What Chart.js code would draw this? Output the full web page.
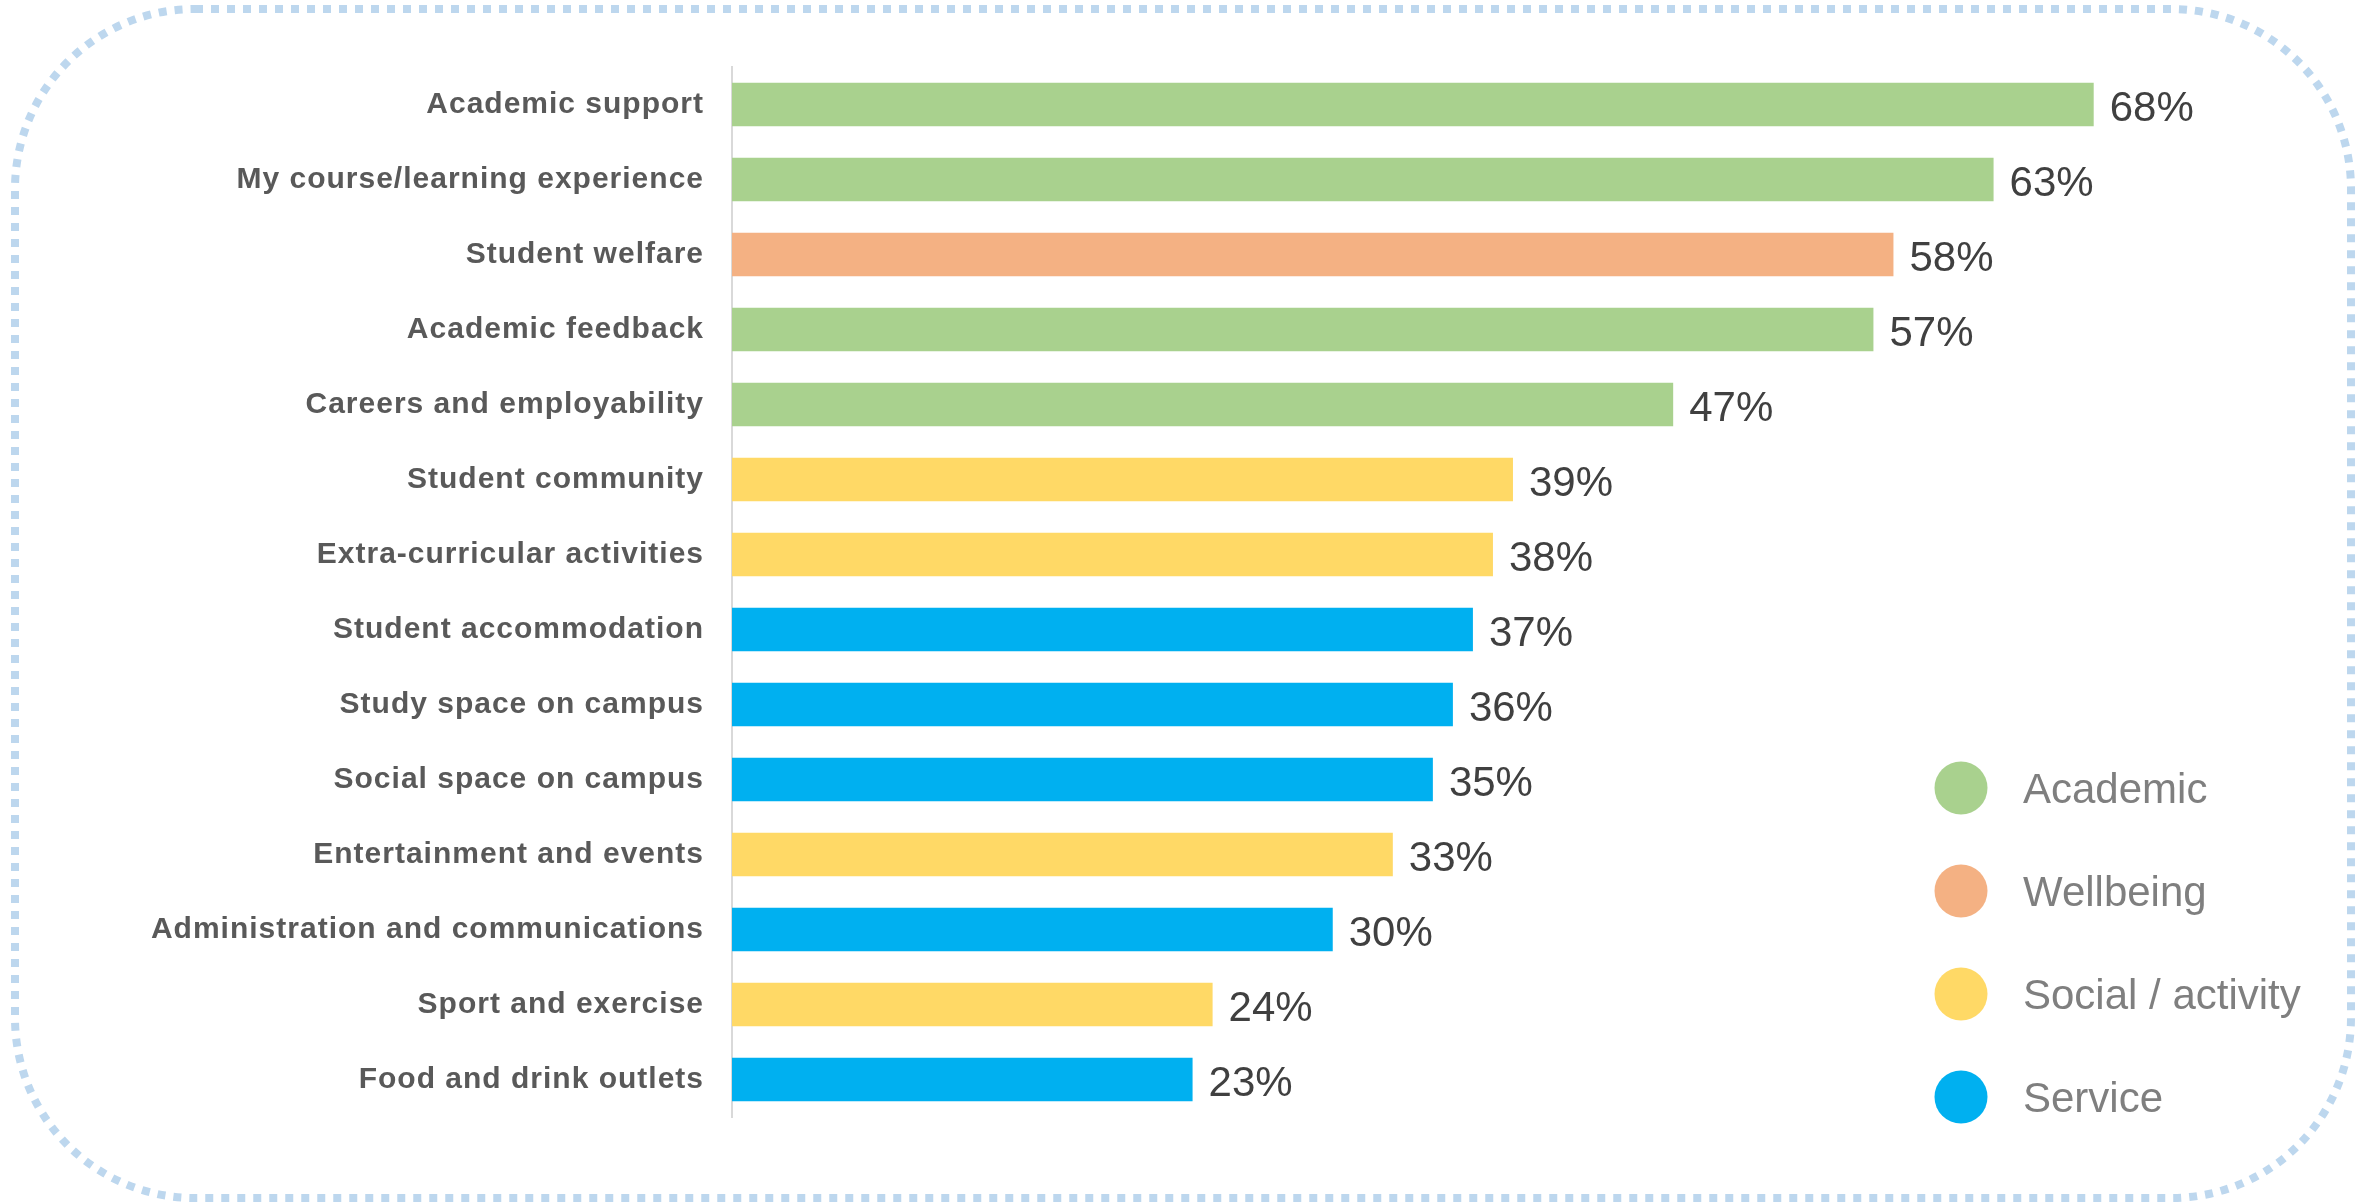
<!DOCTYPE html>
<html>
<head>
<meta charset="utf-8">
<title>Areas rated as important</title>
<script src="https://cdn.jsdelivr.net/npm/chart.js@4.4.0/dist/chart.umd.min.js"></script>
<style>
  html, body { margin: 0; padding: 0; background: #fff; }
  #wrap { position: relative; width: 2356px; height: 1203px; }
</style>
</head>
<body>
<div id="wrap"><canvas id="areaChart"></canvas></div>
<script>
// 項目と値（%）
const categories = [
    'Academic support',
    'My course/learning experience',
    'Student welfare',
    'Academic feedback',
    'Careers and employability',
    'Student community',
    'Extra-curricular activities',
    'Student accommodation',
    'Study space on campus',
    'Social space on campus',
    'Entertainment and events',
    'Administration and communications',
    'Sport and exercise',
    'Food and drink outlets'
];
const values = [68, 63, 58, 57, 47, 39, 38, 37, 36, 35, 33, 30, 24, 23];
const groups = [
    'Academic', 'Academic', 'Wellbeing', 'Academic', 'Academic',
    'Social / activity', 'Social / activity',
    'Service', 'Service', 'Service',
    'Social / activity', 'Service', 'Social / activity', 'Service'
];

// 分類ごとの色
const groupNames = ['Academic', 'Wellbeing', 'Social / activity', 'Service'];
const groupColors = ['#A9D18E', '#F4B183', '#FFD966', '#00B0F0'];

const fontFamily = "'Liberation Sans', Arial, Helvetica, sans-serif";

function colorOf(group) {
    return groupColors[groupNames.indexOf(group)];
}

// 点線の角丸枠
const framePlugin = {
    id: 'frame',
    beforeDraw(chart) {
        const ctx = chart.ctx;
        const x = 15, y = 9, w = 2336, h = 1189, r = 180;
        ctx.save();
        ctx.fillStyle = '#ffffff';
        ctx.fillRect(0, 0, chart.width, chart.height);
        ctx.strokeStyle = '#BDD7EE';
        ctx.lineWidth = 8;
        ctx.setLineDash([8, 8]);
        ctx.beginPath();
        ctx.moveTo(x + r, y);
        ctx.arcTo(x + w, y, x + w, y + h, r);
        ctx.arcTo(x + w, y + h, x, y + h, r);
        ctx.arcTo(x, y + h, x, y, r);
        ctx.arcTo(x, y, x + w, y, r);
        ctx.closePath();
        ctx.stroke();
        ctx.restore();
        // 項目ラベルは少し字間を空ける
        ctx.letterSpacing = '1px';
    },
    beforeDatasetsDraw(chart) {
        chart.ctx.letterSpacing = '0px';
    }
};

// バー右側の値ラベル
const valueLabelPlugin = {
    id: 'valueLabels',
    afterDatasetsDraw(chart) {
        const ctx = chart.ctx;
        const meta = chart.getDatasetMeta(0);
        ctx.save();
        ctx.letterSpacing = '0px';
        ctx.font = '42px ' + fontFamily;
        ctx.fillStyle = '#404040';
        ctx.textAlign = 'left';
        ctx.textBaseline = 'alphabetic';
        meta.data.forEach((bar, i) => {
            ctx.fillText(values[i] + '%', bar.x + 16, bar.y + 16);
        });
        ctx.restore();
    }
};

// 右下の凡例
const legendPlugin = {
    id: 'groupLegend',
    afterDraw(chart) {
        const ctx = chart.ctx;
        ctx.save();
        ctx.letterSpacing = '0px';
        ctx.font = '42px ' + fontFamily;
        ctx.textAlign = 'left';
        ctx.textBaseline = 'alphabetic';
        groupNames.forEach((name, i) => {
            const cy = 788 + i * 103;
            ctx.fillStyle = groupColors[i];
            ctx.beginPath();
            ctx.arc(1961, cy, 26.5, 0, Math.PI * 2);
            ctx.fill();
            ctx.fillStyle = '#7F7F7F';
            ctx.fillText(name, 2023, cy + 15);
        });
        ctx.restore();
    }
};

function createAreaChart() {
    const ctx = document.getElementById('areaChart').getContext('2d');

    new Chart(ctx, {
        type: 'bar',
        data: {
            labels: categories,
            datasets: [{
                data: values,
                backgroundColor: groups.map(colorOf),
                borderWidth: 0,
                categoryPercentage: 1,
                barPercentage: 0.58
            }]
        },
        options: {
            indexAxis: 'y',
            responsive: true,
            maintainAspectRatio: false,
            animation: false,
            layout: {
                padding: { top: 67, bottom: 86, left: 0, right: 22 }
            },
            plugins: {
                legend: { display: false },
                tooltip: { enabled: false }
            },
            scales: {
                x: {
                    display: false,
                    min: 0,
                    max: 80
                },
                y: {
                    afterFit(scale) {
                        scale.width = 732;
                    },
                    grid: {
                        display: false,
                        drawTicks: false
                    },
                    border: {
                        display: true,
                        color: '#D9D9D9',
                        width: 2
                    },
                    ticks: {
                        padding: 28,
                        color: '#595959',
                        font: {
                            family: fontFamily,
                            size: 30,
                            weight: 'bold'
                        }
                    }
                }
            }
        },
        plugins: [framePlugin, valueLabelPlugin, legendPlugin]
    });
}

createAreaChart();
</script>
</body>
</html>
